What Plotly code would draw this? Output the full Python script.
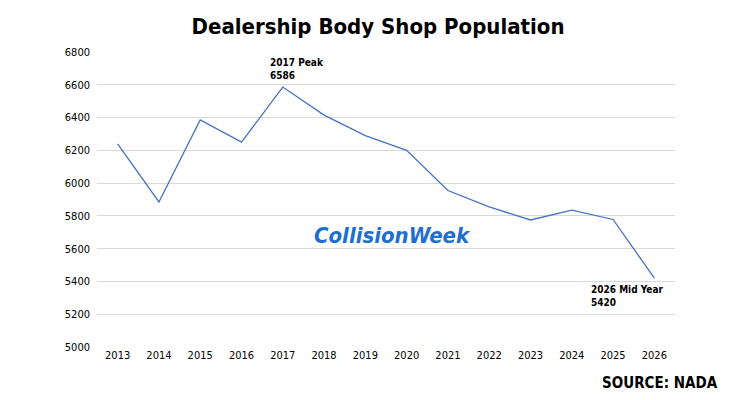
import plotly.graph_objects as go

years = ["2013","2014","2015","2016","2017","2018","2019","2020","2021","2022","2023","2024","2025","2026"]
population = [6240, 5885, 6385, 6250, 6586, 6415, 6290, 6200, 5955, 5855, 5775, 5835, 5778, 5420]
y_ticks = [5000, 5200, 5400, 5600, 5800, 6000, 6200, 6400, 6600, 6800]

FONT = "DejaVu Sans Condensed, Liberation Sans Narrow, sans-serif"

fig = go.Figure(go.Scatter(x=list(range(len(years))), y=population, mode="lines",
                           line=dict(color="#4472C4", width=1.3), hoverinfo="skip"))

fig.add_annotation(x=years.index("2017"), y=population[4], text="<b>2017 Peak<br>6586</b>", showarrow=False,
                   xanchor="left", yanchor="bottom", xshift=-15, yshift=4, align="left",
                   font=dict(family=FONT, size=10, color="#000"))
fig.add_annotation(x=years.index("2026"), y=population[13], text="<b>2026 Mid Year<br>5420</b>", showarrow=False,
                   xanchor="right", yanchor="top", xshift=12, yshift=-4, align="left",
                   font=dict(family=FONT, size=10, color="#000"))

fig.update_layout(
    width=740, height=400, plot_bgcolor="white", paper_bgcolor="white",
    margin=dict(l=89, r=73, t=44, b=61, autoexpand=False),
    showlegend=False,
    title=dict(text="<b>Dealership Body Shop Population</b>", x=0.5, xanchor="center", y=0.955, yanchor="middle",
               font=dict(family=FONT, size=22, color="#000")),
    xaxis=dict(range=[-0.5, 13.5], tickvals=list(range(len(years))), ticktext=years,
               showgrid=False, showline=False, ticks="", zeroline=False,
               tickfont=dict(family=FONT, size=11, color="#000")),
    yaxis=dict(range=[5000, 6800], tickvals=y_ticks, showgrid=True, gridcolor="#D9D9D9", gridwidth=1,
               zeroline=False, showline=False, ticks="", ticklabelstandoff=6,
               tickfont=dict(family=FONT, size=11, color="#000")),
)

fig.add_annotation(xref="paper", yref="paper", x=0.512, y=0.329, text="<b><i>CollisionWeek</i></b>",
                   showarrow=False, font=dict(family=FONT, size=22, color="#1F6FCF"))
fig.add_annotation(xref="paper", yref="paper", x=1.078, y=-0.122, xanchor="right", yanchor="middle",
                   text="<b>SOURCE: NADA</b>", showarrow=False,
                   font=dict(family=FONT, size=15, color="#000"))

fig.write_html("out.html")
